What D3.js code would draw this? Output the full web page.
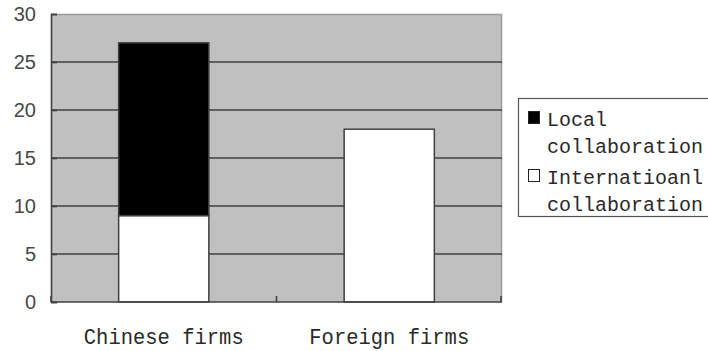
<!DOCTYPE html>
<html>
<head>
<meta charset="utf-8">
<script src="https://cdn.jsdelivr.net/npm/d3@7"></script>
<style>
  html, body { margin: 0; padding: 0; background: #fff; }
  svg { display: block; }
</style>
</head>
<body>
<svg id="chart" width="708" height="351"></svg>
<script>
// Collaboration counts by firm type
const categories = ["Chinese firms", "Foreign firms"];
const internationalValues = [9, 18];
const localValues = [18, 0];
const seriesNames = ["Local\ncollaboration", "Internatioanl\ncollaboration"];
const yTicks = [0, 5, 10, 15, 20, 25, 30];

const W = 708, H = 351;
const plot = { left: 51, top: 14, right: 502, bottom: 302 };
const monoFont = "'Liberation Mono', 'DejaVu Sans Mono', monospace";
const sansFont = "'Liberation Sans', Arial, sans-serif";

const svg = d3.select("#chart");

const x = d3.scaleBand()
  .domain(categories)
  .range([plot.left, plot.right])
  .paddingInner(0.6)
  .paddingOuter(0.3);

const y = d3.scaleLinear()
  .domain([0, 30])
  .range([plot.bottom, plot.top]);

// Plot background
svg.append("rect")
  .attr("x", plot.left).attr("y", plot.top)
  .attr("width", plot.right - plot.left)
  .attr("height", plot.bottom - plot.top)
  .attr("fill", "#c0c0c0");

// Top and right frame
svg.append("path")
  .attr("d", `M${plot.left},${plot.top + 0.5}H${plot.right - 0.5}V${plot.bottom}`)
  .attr("fill", "none")
  .attr("stroke", "#9a9a9a")
  .attr("stroke-width", 1.5);

// Horizontal gridlines
svg.append("g")
  .selectAll("line")
  .data(yTicks.filter(d => d > 0 && d < 30))
  .join("line")
  .attr("x1", plot.left).attr("x2", plot.right)
  .attr("y1", d => y(d)).attr("y2", d => y(d))
  .attr("stroke", "#404040")
  .attr("stroke-width", 1.6);

// Stacked bars: international at the base, local on top
const rows = categories.map((c, i) => ({
  category: c,
  international: internationalValues[i],
  local: localValues[i]
}));
const stacked = d3.stack().keys(["international", "local"])(rows);
const fills = { international: "#ffffff", local: "#000000" };

svg.append("g")
  .selectAll("g")
  .data(stacked)
  .join("g")
  .attr("fill", d => fills[d.key])
  .selectAll("rect")
  .data(d => d.filter(p => p[1] - p[0] > 0))
  .join("rect")
  .attr("x", d => x(d.data.category))
  .attr("width", x.bandwidth())
  .attr("y", d => y(d[1]))
  .attr("height", d => y(d[0]) - y(d[1]))
  .attr("stroke", "#404040")
  .attr("stroke-width", 1.5);

// Value axis
const yAxis = d3.axisLeft(y)
  .tickValues(yTicks)
  .tickSize(-6)
  .tickPadding(15)
  .tickFormat(d3.format("d"));
const yg = svg.append("g")
  .attr("transform", `translate(${plot.left},0)`)
  .call(yAxis);
yg.select(".domain").attr("stroke", "#404040").attr("stroke-width", 1.6);
yg.selectAll(".tick line").attr("stroke", "#404040").attr("stroke-width", 1.6);
yg.selectAll(".tick text")
  .attr("font-family", sansFont)
  .attr("font-size", 20)
  .attr("fill", "#484848");

// Category axis with ticks at category boundaries
const step = x.step();
const boundaries = [plot.left, ...categories.slice(1).map(c => x(c) - (step - x.bandwidth()) / 2), plot.right - 1];
const xg = svg.append("g");
xg.append("line")
  .attr("x1", plot.left).attr("x2", plot.right)
  .attr("y1", plot.bottom).attr("y2", plot.bottom)
  .attr("stroke", "#404040")
  .attr("stroke-width", 1.6);
xg.selectAll("line.tick")
  .data(boundaries)
  .join("line")
  .attr("class", "tick")
  .attr("x1", d => d).attr("x2", d => d)
  .attr("y1", plot.bottom).attr("y2", plot.bottom - 6)
  .attr("stroke", "#404040")
  .attr("stroke-width", 1.6);
xg.selectAll("text")
  .data(categories)
  .join("text")
  .attr("x", d => x(d) + x.bandwidth() / 2)
  .attr("y", 344)
  .attr("text-anchor", "middle")
  .attr("font-family", monoFont)
  .attr("font-size", 22)
  .attr("fill", "#2a2a2a")
  .attr("textLength", d => d.length * 12.3)
  .attr("lengthAdjust", "spacingAndGlyphs")
  .text(d => d);

// Legend (box runs off the right edge of the canvas)
const legend = svg.append("g");
legend.append("rect")
  .attr("x", 518.5).attr("y", 98.5)
  .attr("width", 210).attr("height", 118)
  .attr("fill", "#fff")
  .attr("stroke", "#555")
  .attr("stroke-width", 1.2);

const legendKeys = ["local", "international"];
const legendRowY = [126, 184];
legendKeys.forEach((k, i) => {
  const top = legendRowY[i];
  legend.append("rect")
    .attr("x", 528.5).attr("y", top - 14.5)
    .attr("width", 11).attr("height", 12)
    .attr("fill", fills[k])
    .attr("stroke", "#222")
    .attr("stroke-width", 1);
  const lines = seriesNames[i].split("\n");
  lines.forEach((t, j) => {
    legend.append("text")
      .attr("x", 547)
      .attr("y", top + j * 27)
      .attr("font-family", monoFont)
      .attr("font-size", 20)
      .attr("fill", "#2a2a2a")
      .text(t);
  });
});
</script>
</body>
</html>
